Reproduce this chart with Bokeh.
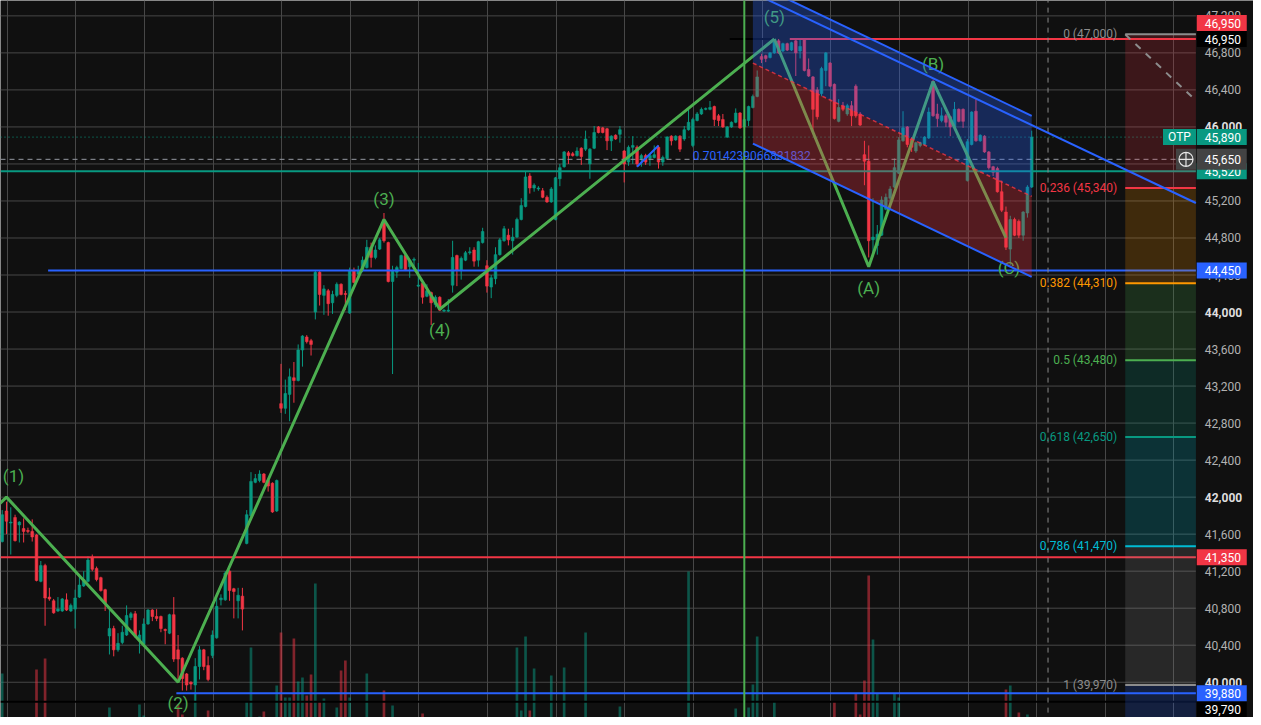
import numpy as np
from bokeh.plotting import figure
from bokeh.models import ColumnDataSource, Range1d, FixedTicker, Grid
from bokeh.core.properties import value
from bokeh.embed import file_html
from bokeh.resources import INLINE

# ---------------- data ----------------
opens = [
    41520, 41850, 41720, 41780, 41700, 41660, 41640, 41630, 41590, 41090,
    41260, 40920, 40880, 40770, 40770, 40890, 40770, 40790, 40920, 41040,
    41090, 41350, 41230, 41130, 41000, 40500, 40580, 40350, 40430, 40510,
    40700, 40740, 40450, 40410, 40630, 40780, 40710, 40710, 40570, 40530,
    40730, 40350, 40260, 40090, 40000, 39970, 40170, 40350, 40180, 40290,
    40480, 40890, 40890, 41200, 41010, 40880, 40930, 41500, 41800, 42160,
    42180, 42250, 42180, 42150, 41850, 43010, 42960, 43110, 43290, 43260,
    43590, 43730, 43690, 44000, 44430, 44180, 44230, 44100, 44180, 44300,
    44200, 43990, 44450, 44410, 44450, 44480, 44700, 44590, 44680, 44990,
    44750, 44330, 44430, 44470, 44610, 44490, 44560, 44280, 44310, 44170,
    44210, 44080, 44160, 44010, 44010, 44290, 44610, 44450, 44560, 44640,
    44670, 44560, 44750, 44500, 44270, 44360, 44620, 44770, 44830, 44770,
    44810, 45000, 45140, 45470, 45340, 45330, 45310, 45240, 45190, 45000,
    45440, 45570, 45720, 45710, 45690, 45770, 45760, 45600, 45770, 46000,
    45990, 45980, 45850, 45910, 45920, 45740, 45620, 45780, 45780, 45660,
    45690, 45660, 45670, 45780, 45620, 45660, 45900, 45860, 45900, 45870,
    45970, 45800, 46070, 46140, 46190, 46190, 46220, 46120, 46080, 45890,
    46000, 46050, 46150, 46000, 46070, 46210, 46330, 46760, 46770, 46750,
    46800, 46930, 46820, 46900, 46830, 46930, 46820, 46940, 46620, 46540,
    46400, 46360, 46610, 46690, 46460, 46060, 46230, 46140, 46230, 46440,
    46140, 45700, 45630, 44780, 44720, 44830, 45110, 45230, 45350, 45500,
    45850, 46000, 45870, 45740, 45800, 45810, 45880, 46490, 46140, 46070,
    46120, 46110, 46000, 46190, 46190, 45420, 45810, 46170, 45850, 45900,
    45730, 45570, 45550, 45300, 45080, 44680, 45000, 44980, 44830, 45070,
    45350,
]
highs = [
    41860, 41950, 41890, 41810, 41740, 41770, 41670, 41760, 41600, 41310,
    41280, 41020, 40900, 40920, 40910, 40960, 40850, 41000, 41150, 41200,
    41360, 41380, 41250, 41140, 41010, 40790, 40610, 40530, 40610, 40830,
    40760, 40770, 40560, 40690, 40790, 40790, 40790, 40720, 40580, 40740,
    40920, 40510, 40270, 40100, 40010, 40260, 40390, 40360, 40280, 40560,
    40920, 40950, 41200, 41210, 41020, 41020, 41020, 41860, 42270, 42250,
    42290, 42260, 42200, 42160, 42190, 43440, 43270, 43390, 43460, 43650,
    43750, 43750, 43710, 44450, 44450, 44290, 44250, 44230, 44320, 44310,
    44230, 44480, 44480, 44500, 44600, 44780, 44750, 44720, 44800, 45070,
    44760, 44500, 44500, 44620, 44620, 44570, 44590, 44530, 44320, 44300,
    44220, 44180, 44170, 44030, 44140, 44770, 44620, 44600, 44660, 44700,
    44700, 44770, 44910, 44560, 44400, 44700, 44800, 44930, 44900, 44910,
    45020, 45230, 45520, 45500, 45390, 45360, 45340, 45260, 45350, 45460,
    45600, 45740, 45740, 45730, 45780, 45780, 45960, 45770, 46010, 46010,
    46000, 45990, 45910, 45920, 46010, 45750, 45800, 45900, 45800, 45710,
    45710, 45710, 45800, 45800, 45690, 45900, 45910, 45910, 45910, 46010,
    46190, 46100, 46160, 46210, 46210, 46280, 46230, 46140, 46140, 46010,
    46060, 46200, 46160, 46110, 46230, 46350, 46610, 46790, 46780, 46810,
    46950, 46950, 46910, 46910, 46920, 46940, 46940, 46950, 46740, 46550,
    46430, 46650, 46810, 46700, 46470, 46300, 46270, 46250, 46280, 46460,
    46160, 45850, 45800, 45230, 44940, 45250, 45280, 45360, 45660, 45890,
    46170, 46010, 45890, 45840, 45840, 45900, 46210, 46510, 46250, 46210,
    46140, 46120, 46270, 46200, 46200, 45870, 46170, 46300, 45920, 45910,
    45740, 45580, 45570, 45420, 45140, 45040, 45020, 45000, 45090, 45370,
    45960,
]
lows = [
    41510, 41600, 41380, 41520, 41510, 41510, 41610, 41520, 41090, 41080,
    40610, 40880, 40740, 40760, 40760, 40770, 40760, 40580, 40910, 41030,
    41080, 41200, 41090, 40980, 40770, 40300, 40280, 40330, 40410, 40500,
    40670, 40480, 40310, 40400, 40620, 40660, 40660, 40540, 40410, 40520,
    40220, 40030, 39910, 39910, 39920, 39790, 40030, 40130, 40010, 40260,
    40470, 40830, 40880, 40880, 40690, 40690, 40560, 41490, 41790, 42150,
    42160, 42150, 42060, 41830, 41840, 42910, 42900, 42820, 43020, 43250,
    43410, 43660, 43530, 43920, 44070, 43970, 43960, 43980, 44160, 44180,
    44020, 43980, 44310, 44400, 44430, 44470, 44480, 44570, 44670, 44750,
    44320, 43330, 44370, 44460, 44450, 44370, 44480, 44270, 44090, 44160,
    43860, 44050, 44010, 44000, 44000, 44210, 44280, 44350, 44550, 44620,
    44490, 44490, 44740, 44210, 44150, 44300, 44610, 44760, 44720, 44620,
    44800, 44990, 45130, 45280, 45300, 45310, 45230, 45180, 45180, 44990,
    45360, 45560, 45600, 45680, 45680, 45590, 45740, 45440, 45760, 45930,
    45930, 45750, 45740, 45860, 45830, 45400, 45580, 45600, 45570, 45570,
    45590, 45580, 45660, 45550, 45580, 45650, 45800, 45850, 45730, 45850,
    45960, 45780, 46060, 46130, 46180, 46180, 46010, 46010, 45990, 45880,
    45990, 46040, 45980, 45990, 46010, 46200, 46320, 46690, 46700, 46740,
    46790, 46790, 46810, 46820, 46820, 46550, 46740, 46600, 46540, 45940,
    46080, 46330, 46440, 46430, 46080, 46050, 46170, 46120, 46010, 46100,
    46010, 45370, 44590, 44620, 44620, 44820, 45100, 45120, 45340, 45490,
    45840, 45780, 45730, 45720, 45780, 45800, 45870, 46110, 46000, 46050,
    46000, 45900, 45980, 46050, 45990, 45410, 45800, 45840, 45840, 45720,
    45540, 45470, 45290, 45080, 44670, 44510, 44820, 44800, 44770, 45020,
    45340,
]
closes = [
    41810, 41740, 41730, 41530, 41730, 41630, 41630, 41570, 41100, 41260,
    40910, 40900, 40750, 40790, 40900, 40780, 40830, 40910, 41050, 41110,
    41320, 41220, 41110, 40990, 40850, 40580, 40350, 40420, 40540, 40720,
    40740, 40500, 40510, 40630, 40780, 40710, 40690, 40580, 40560, 40730,
    40250, 40250, 40040, 39970, 39980, 40170, 40350, 40170, 40030, 40510,
    40820, 40910, 41180, 40990, 40980, 40940, 40790, 41810, 42170, 42200,
    42250, 42160, 42120, 41840, 42180, 42960, 43120, 43300, 43260, 43590,
    43740, 43680, 43650, 44430, 44190, 44250, 44090, 44190, 44300, 44190,
    44190, 44450, 44320, 44450, 44560, 44700, 44590, 44670, 44780, 44770,
    44330, 44450, 44480, 44610, 44460, 44560, 44570, 44290, 44160, 44230,
    44100, 44160, 44020, 44020, 44020, 44590, 44450, 44580, 44640, 44650,
    44550, 44760, 44870, 44280, 44370, 44620, 44780, 44900, 44780, 44810,
    45000, 45150, 45460, 45340, 45370, 45340, 45240, 45190, 45330, 45450,
    45560, 45730, 45690, 45690, 45740, 45680, 45870, 45760, 45940, 45940,
    45940, 45850, 45900, 45870, 45970, 45600, 45780, 45800, 45600, 45690,
    45620, 45690, 45700, 45620, 45670, 45890, 45850, 45900, 45760, 45970,
    46050, 46080, 46140, 46190, 46200, 46210, 46080, 46070, 46000, 46000,
    46050, 46150, 45990, 46080, 46220, 46330, 46540, 46730, 46740, 46800,
    46920, 46800, 46900, 46830, 46910, 46800, 46870, 46610, 46550, 46190,
    46110, 46630, 46800, 46440, 46090, 46210, 46190, 46230, 46120, 46120,
    46020, 45630, 44770, 44810, 44840, 45210, 45240, 45330, 45560, 45860,
    45990, 45810, 45780, 45830, 45830, 45890, 46160, 46120, 46090, 46120,
    46050, 46000, 46190, 46060, 46060, 45840, 46160, 45850, 45910, 45730,
    45560, 45510, 45300, 45100, 44700, 45000, 44830, 44830, 45080, 45350,
    45890,
]
volumes = [
    11900, 5200, 3100, 4400, 2600, 3800, 2100, 4700, 12300, 6100,
    13400, 3300, 5600, 2900, 4200, 3600, 2400, 6800, 5100, 3900,
    6200, 4500, 3000, 5500, 6900, 8500, 6400, 3500, 4100, 6600,
    2700, 5800, 8800, 7700, 4900, 3200, 2800, 5300, 4000, 6300,
    7100, 8800, 7800, 6500, 3400, 10000, 6700, 4300, 8200, 5900,
    7200, 3700, 6000, 5400, 2500, 4600, 6900, 9100, 14500, 5000,
    7600, 8100, 4800, 7000, 10700, 16000, 9500, 9500, 15400, 11100,
    11500, 9700, 11800, 20900, 9100, 9400, 6200, 5700, 8500, 12200,
    13200, 9500, 6400, 4100, 6800, 11900, 5300, 3600, 4900, 10200,
    7300, 8700, 3900, 5000, 6100, 2800, 2300, 5600, 7900, 4400,
    6600, 3300, 5200, 2000, 3100, 7200, 6000, 4700, 3500, 2600,
    4900, 6300, 5700, 7000, 4200, 6500, 5100, 4600, 3800, 5900,
    14500, 8200, 15600, 8200, 12400, 5500, 4300, 6700, 11700, 7300,
    6900, 12500, 3900, 2700, 4500, 5800, 16000, 6200, 7100, 3400,
    2900, 5600, 4100, 3000, 8600, 6800, 5200, 4400, 6100, 2600,
    3300, 2900, 3700, 5900, 2500, 6400, 3600, 2400, 4800, 5500,
    22100, 7000, 4600, 3800, 2200, 3500, 6700, 4000, 5300, 6600,
    3100, 8400, 6300, 5000, 8500, 10800, 15600, 6900, 4800, 5600,
    9100, 6200, 3700, 2800, 4500, 6600, 3900, 7100, 5200, 7300,
    6400, 5800, 6900, 4700, 9100, 5100, 3600, 4300, 6200, 9900,
    7800, 11200, 21700, 15300, 9900, 7400, 6100, 5500, 9900, 9500,
    6800, 5900, 4200, 3300, 2600, 4700, 7200, 7400, 6000, 3800,
    4400, 5300, 6500, 3900, 4100, 7300, 6700, 5000, 3400, 5800,
    6300, 4600, 6900, 7100, 10300, 10700, 6400, 8000, 5200, 7800,
    4100,
]

# Elliott impulse wave (candle index, price)
impulse_x = [-3, 1, 41, 89, 102, 180]
impulse_y = [41820, 42000, 40000, 45000, 44030, 46950]
impulse_labels = ["", "(1)", "(2)", "(3)", "(4)", "(5)"]
# corrective wave starting from (5)
corr_x = [180, 202, 217, 234]
corr_y = [46950, 44490, 46490, 44800]
corr_labels = ["", "(A)", "(B)", "(C)"]

# Fibonacci retracement
fib_ratio_text = ["0", "0.236", "0.382", "0.5", "0.618", "0.786", "1", "1.618"]
fib_prices = [47000, 45340, 44310, 43480, 42650, 41470, 39970, 35630]

# descending parallel channel (index, price)
channel_x = [175, 240]
channel_upper = [47560, 46120]
channel_lower = [45820, 44380]
# trend line inside the channel
trend_x = [175, 278.27]
trend_y = [47450, 45178]
# small ratio segment and its value
ratio_x = [148, 153]
ratio_y = [45570, 45800]
ratio_text = "0.7014239066831832"
ratio_text_at = (161, 45690)

# horizontal price lines
hline_prices = [46950, 46950, 45890, 45650, 45520, 44450, 41350, 39880, 39790]
# price-scale value boxes
box_prices = [46950, 46950, 45890, 45520, 45650, 44450, 41350, 39880, 39790]
price_ticks = list(range(40000, 47600, 400))
bold_ticks = [40000, 42000, 44000, 46000]

# ---------------- layout / styles ----------------
BG = "#101010"
GRID = "#474747"
UP = "#089981"
DN = "#f23645"
WAVE = "#4caf50"
BLUE = "#2962ff"
FONT = "Roboto"

W, H = 1253, 717
X0, X1 = -0.394, 291.70      # whole canvas (chart + price scale)
XF = 278.27                  # right edge of the chart pane
Y0, Y1 = 39619, 47366
UPX = (Y1 - Y0) / H          # price units per pixel
XT = 280.35                  # price-scale text start
XB = 284.3                   # price-scale box centre

hline_x0 = [183.6, 169.6, X0, X0, X0, 10.7, X0, 40.6, X0]
hline_x1 = [XF, 180, XF, XF, XF, XF, XF, XF, XF]
hline_colors = [DN, "#000000", UP, "#9598a1", UP, BLUE, DN, BLUE, "#000000"]
hline_widths = [2, 2, 1, 1, 2, 2, 2, 2, 2]
hline_dashes = ["solid", "solid", "1 3", "5 4", "solid", "solid", "solid", "solid", "solid"]

vline_x = [173, 243.8]
vline_colors = [WAVE, "#8a8a8a"]
vline_dashes = ["solid", "5 5"]
vline_widths = [2, 1]

impulse_dy = [0, -21, 21, -20, 21, -22]
impulse_dx = [0, 7, 0, 0, 0, 0]
corr_dy = [0, 21, -18, 30]
corr_dx = [0, 0, 0, 3]

fib_colors = ["#8c8c8c", "#f23645", "#ff9800", "#4caf50", "#089981", "#00bcd4", "#8c8c8c", "#2962ff"]
FIB_LEFT = 261.8
FIB_X2 = 424

box_colors = [DN, "#000000", UP, UP, "#434343", BLUE, DN, BLUE, "#000000"]
box_dy = [16, 0, 0, 0, 0, 0, 0, 0, -8]
box_h = [16, 16, 16, 16, 21, 16, 16, 16, 16]

# ---------------- figure ----------------
p = figure(width=W, height=H, x_range=Range1d(X0, X1), y_range=Range1d(Y0, Y1),
           output_backend="svg", toolbar_location=None,
           x_axis_location=None, y_axis_location=None, min_border=0,
           background_fill_color=BG, border_fill_color=BG, outline_line_color=None)
for g in p.grid:
    g.visible = False

# grid: vertical time lines and horizontal price lines (chart pane only)
vgrid_ticks = [1.16 + 16 * k for k in range(0, 18)]
p.add_layout(Grid(dimension=0, ticker=FixedTicker(ticks=vgrid_ticks),
                  grid_line_color=GRID, grid_line_width=1))
p.segment(x0=[X0] * len(price_ticks), y0=price_ticks, x1=[XF] * len(price_ticks), y1=price_ticks,
          line_color=GRID, line_width=1)

n = len(closes)
assert len(opens) == n and len(highs) == n and len(lows) == n and len(volumes) == n
idx = np.arange(n)
o = np.array(opens, float)
c = np.array(closes, float)
h = np.array(highs, float)
l = np.array(lows, float)
col = np.where(c >= o, UP, DN)

# volume (own scale, base below the visible area)
p.extra_y_ranges = {"vol": Range1d(7500, 7500 + 71700 * H / 717 * 725 / 725)}
vsrc = ColumnDataSource(dict(x=idx, top=volumes, color=col))
p.vbar(x="x", top="top", bottom=0, width=0.62, y_range_name="vol",
       fill_color="color", fill_alpha=0.5, line_color=None, source=vsrc)

# candles
csrc = ColumnDataSource(dict(x=idx, h=h, l=l, top=np.maximum(o, c), bottom=np.minimum(o, c), color=col))
p.segment(x0="x", y0="h", x1="x", y1="l", line_color="color", line_width=1, source=csrc)
p.vbar(x="x", top="top", bottom="bottom", width=0.62, fill_color="color",
       line_color="color", line_width=0.6, source=csrc)

# horizontal lines
for pr, xs, xe, lc, lw, ld in zip(hline_prices, hline_x0, hline_x1, hline_colors, hline_widths, hline_dashes):
    p.segment(x0=[xs], y0=[pr], x1=[xe], y1=[pr], line_color=lc, line_width=lw, line_dash=ld)

# vertical lines
for vx, lc, ld, lw in zip(vline_x, vline_colors, vline_dashes, vline_widths):
    p.segment(x0=[vx], y0=[Y0 - 2000], x1=[vx], y1=[Y1 + 2000], line_color=lc, line_width=lw, line_dash=ld)

# ratio segment and text
p.line(ratio_x, ratio_y, line_color=BLUE, line_width=2)
p.text(x=[ratio_text_at[0]], y=[ratio_text_at[1]], text=[ratio_text], text_color=BLUE,
       text_font=value(FONT), text_font_size="12px", text_baseline="middle", text_align="left")

# Elliott waves
p.line(impulse_x, impulse_y, line_color=WAVE, line_width=3)
p.line(corr_x, corr_y, line_color=WAVE, line_width=3)
wsrc = ColumnDataSource(dict(
    x=impulse_x[1:] + corr_x[1:], y=impulse_y[1:] + corr_y[1:],
    t=impulse_labels[1:] + corr_labels[1:],
    dy=impulse_dy[1:] + corr_dy[1:], dx=impulse_dx[1:] + corr_dx[1:]))
p.text(x="x", y="y", text="t", x_offset="dx", y_offset="dy", source=wsrc, text_color=WAVE,
       text_font=value(FONT), text_font_size="17px", text_baseline="middle", text_align="center")

# Fibonacci retracement
p.quad(left=FIB_LEFT, right=XF, top=fib_prices[:-1], bottom=fib_prices[1:],
       fill_color=fib_colors[1:], fill_alpha=0.2, line_color=None)
nl = 7
p.segment(x0=[FIB_LEFT] * nl, y0=fib_prices[:nl], x1=[XF] * nl, y1=fib_prices[:nl],
          line_color=fib_colors[:nl], line_width=2)
fsrc = ColumnDataSource(dict(x=[FIB_LEFT] * nl, y=fib_prices[:nl],
                             t=[f"{r} ({v:,})" for r, v in zip(fib_ratio_text[:nl], fib_prices[:nl])],
                             color=fib_colors[:nl]))
p.text(x="x", y="y", text="t", source=fsrc, text_color="color", x_offset=-8,
       text_font=value(FONT), text_font_size="12px", text_baseline="middle", text_align="right")
frac = (XF - FIB_LEFT) / (FIB_X2 - FIB_LEFT)
p.line([FIB_LEFT, XF], [fib_prices[0], fib_prices[0] + frac * (fib_prices[6] - fib_prices[0])],
       line_color="#8c8c8c", line_width=2, line_dash="7 7")

# parallel channel
channel_mid = [(u + d) / 2 for u, d in zip(channel_upper, channel_lower)]
p.patch(channel_x + channel_x[::-1], channel_upper + channel_mid[::-1],
        fill_color=BLUE, fill_alpha=0.3, line_color=None)
p.patch(channel_x + channel_x[::-1], channel_mid + channel_lower[::-1],
        fill_color=DN, fill_alpha=0.3, line_color=None)
p.line(channel_x, channel_mid, line_color=DN, line_alpha=0.8, line_width=1.5, line_dash="4 3")
p.line(channel_x, channel_upper, line_color=BLUE, line_width=2)
p.line(channel_x, channel_lower, line_color=BLUE, line_width=2)
p.line(trend_x, trend_y, line_color=BLUE, line_width=2)

# OTP tag and crosshair button at the right edge of the chart pane
p.rect(x=[XF - 3.82], y=[box_prices[2]], width=33, height=16, width_units="screen",
       height_units="screen", fill_color=UP, line_color=None)
p.text(x=[XF - 3.82], y=[box_prices[2]], text=["OTP"], text_color="#ffffff",
       text_font=value(FONT), text_font_size="12px", text_baseline="middle", text_align="center")
p.rect(x=[XF - 2.31], y=[box_prices[4]], width=20, height=21, width_units="screen",
       height_units="screen", fill_color="#434343", line_color=None)
p.scatter(x=[XF - 2.31], y=[box_prices[4]], marker="circle_cross", size=14,
          line_color="#e6e6e6", fill_color=None, line_width=1.2)

# price scale: tick labels
regular = [t for t in price_ticks if t not in bold_ticks]
p.text(x=[XT] * len(regular), y=regular, text=[f"{t:,}" for t in regular], text_color="#b2b2b2",
       text_font=value(FONT), text_font_size="12px", text_baseline="middle", text_align="left")
p.text(x=[XT] * len(bold_ticks), y=bold_ticks, text=[f"{t:,}" for t in bold_ticks], text_color="#dedede",
       text_font=value(FONT), text_font_size="12px", text_font_style="bold",
       text_baseline="middle", text_align="left")

# price scale: value boxes
for pr, bg, dy, bh in zip(box_prices, box_colors, box_dy, box_h):
    yy = pr + dy * UPX
    p.rect(x=[XB], y=[yy], width=50, height=bh, width_units="screen", height_units="screen",
           fill_color=bg, line_color=None)
    p.text(x=[XT], y=[yy], text=[f"{pr:,}"], text_color="#ffffff",
           text_font=value(FONT), text_font_size="12px", text_baseline="middle", text_align="left")

open("out.html", "w").write(file_html(p, INLINE))
